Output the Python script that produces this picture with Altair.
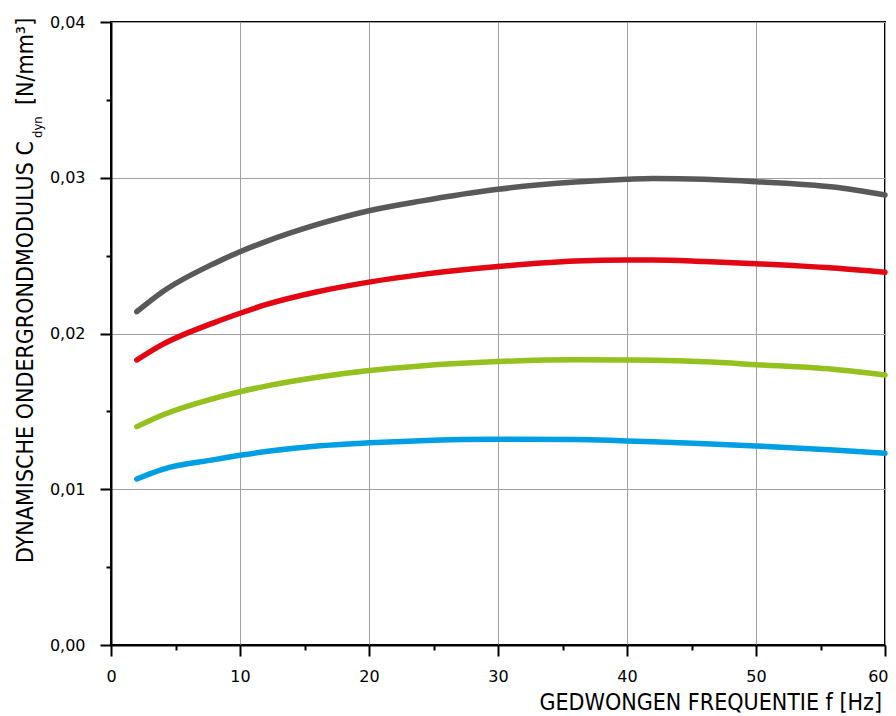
import altair as alt
import pandas as pd

freq = [2, 4, 8, 10, 12, 16, 20, 24, 30, 36, 40, 42, 46, 50, 56, 60]
gray_vals = [0.02140, 0.02268, 0.02450, 0.02525, 0.02590, 0.02700, 0.02788, 0.02850, 0.02926, 0.02972, 0.02990, 0.02995, 0.02990, 0.02975, 0.02940, 0.02889]
red_vals = [0.01830, 0.01930, 0.02070, 0.02130, 0.02185, 0.02268, 0.02330, 0.02378, 0.02430, 0.02465, 0.02472, 0.02472, 0.02462, 0.02448, 0.02420, 0.02393]
green_vals = [0.01402, 0.01477, 0.01584, 0.01626, 0.01662, 0.01719, 0.01762, 0.01792, 0.01820, 0.01832, 0.01830, 0.01828, 0.01818, 0.01800, 0.01770, 0.01734]
blue_vals = [0.01066, 0.01128, 0.01190, 0.01218, 0.01242, 0.01278, 0.01298, 0.01312, 0.01321, 0.01320, 0.01310, 0.01305, 0.01292, 0.01278, 0.01252, 0.01231]

series_names = ["grijs", "rood", "groen", "blauw"]
series_colors = ["#595959", "#e30613", "#95c11f", "#009fe3"]
x_ticks = [0, 5, 10, 15, 20, 25, 30, 35, 40, 45, 50, 55, 60]
y_ticks = [0.0, 0.005, 0.01, 0.015, 0.02, 0.025, 0.03, 0.035, 0.04]

rows = []
for name, vals in zip(series_names, [gray_vals, red_vals, green_vals, blue_vals]):
    for f, v in zip(freq, vals):
        rows.append({"f": f, "c": v, "serie": name})
df = pd.DataFrame(rows)

W, H = 774, 623
COND = "'DejaVu Sans Condensed', 'Liberation Sans Narrow', 'Roboto Condensed', sans-serif"

x_major = "datum.value % 10 === 0"
y_major = "round(datum.value * 1000) % 10 === 0"

x_axis = alt.Axis(
    values=x_ticks,
    labelExpr=f"{x_major} ? datum.label : ''",
    tickSize={"condition": {"test": x_major, "value": 11}, "value": 5},
    gridOpacity={"condition": {"test": x_major, "value": 1}, "value": 0},
    labelAlign={"condition": {"test": "datum.value === 60", "value": "right"}, "value": "center"},
    labelOffset={"condition": {"test": "datum.value === 60", "value": 3}, "value": 0},
    labelOverlap=False, labelFlush=False, title=None,
    labelFont="DejaVu Sans", labelFontSize=16, labelColor="black", labelPadding=12,
    domainColor="black", domainWidth=2, tickColor="black", tickWidth=2,
    gridColor="#a0a0a0", gridWidth=1,
)
y_axis = alt.Axis(
    values=y_ticks,
    labelExpr=f"{y_major} ? replace(format(datum.value, '.2f'), '.', ',') : ''",
    tickSize={"condition": {"test": y_major, "value": 11}, "value": 5},
    gridOpacity={"condition": {"test": y_major, "value": 1}, "value": 0},
    labelOverlap=False, labelFlush=False, title=None,
    labelFont="DejaVu Sans", labelFontSize=16, labelColor="black", labelPadding=15,
    domainColor="black", domainWidth=2, tickColor="black", tickWidth=2,
    gridColor="#a0a0a0", gridWidth=1,
)

lines = alt.Chart(df).mark_line(strokeWidth=5.5, strokeCap="round", interpolate="monotone").encode(
    x=alt.X("f:Q", scale=alt.Scale(domain=[0, 60], nice=False), axis=x_axis),
    y=alt.Y("c:Q", scale=alt.Scale(domain=[0, 0.04], nice=False), axis=y_axis),
    color=alt.Color("serie:N", scale=alt.Scale(domain=series_names, range=series_colors), legend=None),
    detail="serie:N",
)

title_df = pd.DataFrame([
    {"t": "DYNAMISCHE ONDERGRONDMODULUS C", "px": -78, "py": 541, "size": 23},
    {"t": "dyn", "px": -69, "py": 116, "size": 13},
    {"t": "[N/mm³]", "px": -78, "py": 83, "size": 23},
])
ytitle = alt.Chart(title_df).mark_text(angle=270, align="left", baseline="alphabetic", font=COND, color="black").encode(
    x=alt.X("px:Q", scale=None),
    y=alt.Y("py:Q", scale=None),
    text="t:N",
    size=alt.Size("size:Q", scale=None, legend=None),
)

xtitle = alt.Chart(pd.DataFrame({"t": ["GEDWONGEN FREQUENTIE f [Hz]"]})).mark_text(
    align="right", baseline="alphabetic", font=COND, fontSize=23, color="black"
).encode(x=alt.value(771), y=alt.value(688), text="t:N")

chart = alt.layer(lines, ytitle, xtitle).properties(
    width=W, height=H,
    autosize=alt.AutoSizeParams(type="none"),
    padding={"left": 103, "top": 14, "right": 3, "bottom": 70},
).configure_view(stroke="black", strokeWidth=2)

chart.save("out.html", embed_options={"renderer": "svg", "actions": False})
